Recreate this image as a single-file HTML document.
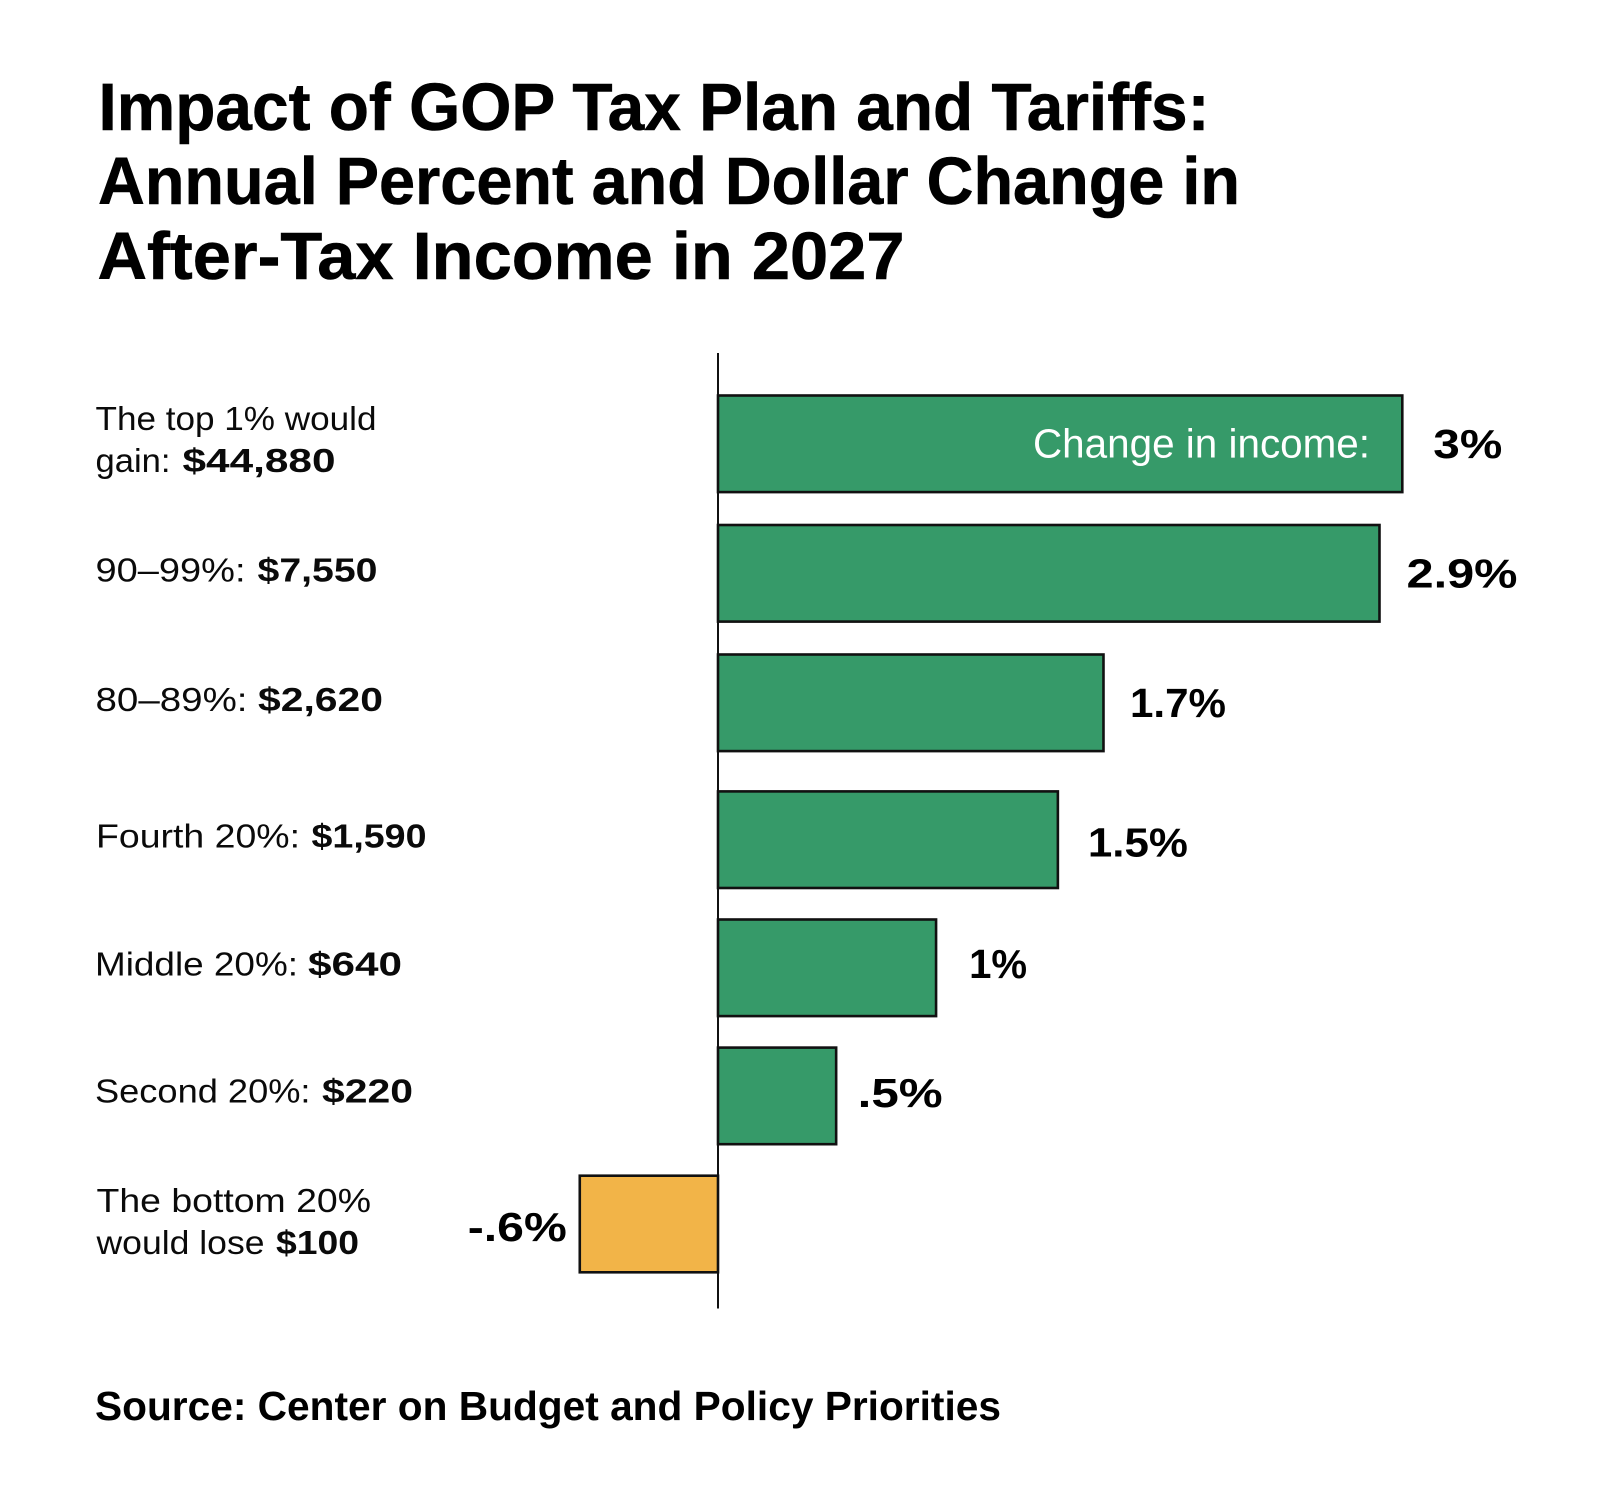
<!DOCTYPE html>
<html lang="en">
<head>
<meta charset="utf-8">
<title>Impact of GOP Tax Plan and Tariffs</title>
<style>
  html, body { margin: 0; padding: 0; background: #ffffff; }
  svg { display: block; font-family: "Liberation Sans", Arial, sans-serif; }
  .title { font-size: 67px; font-weight: 700; fill: #000; stroke: #000; stroke-width: .6px; }
  .cat { font-size: 33.5px; fill: #0a0a0a; }
  .amt { font-size: 33.5px; font-weight: 700; fill: #0a0a0a; }
  .val { font-size: 41px; font-weight: 700; fill: #000; }
  .note { font-size: 41px; fill: #fff; }
  .source { font-size: 41px; font-weight: 700; fill: #000; }
</style>
</head>
<body>
<svg id="chart" width="1600" height="1502" viewBox="0 0 1600 1502" xmlns="http://www.w3.org/2000/svg">
  <rect x="0" y="0" width="1600" height="1502" fill="#ffffff"/>

  <g>
    <text class="title" x="98.5" y="130" textLength="1111" lengthAdjust="spacingAndGlyphs">Impact of GOP Tax Plan and Tariffs:</text>
    <text class="title" x="98" y="204" textLength="1142" lengthAdjust="spacingAndGlyphs">Annual Percent and Dollar Change in</text>
    <text class="title" x="97.5" y="279" textLength="807" lengthAdjust="spacingAndGlyphs">After-Tax Income in 2027</text>
  </g>

  <g id="bars"></g>
  <line id="axis" y1="353" y2="1308.5" stroke="#111" stroke-width="2"/>
  <g id="values"></g>

  <text class="note" x="1033" y="457.7" textLength="337" lengthAdjust="spacingAndGlyphs">Change in income:</text>

  <g>
    <g>
      <text class="cat" x="95.5" y="430" textLength="281" lengthAdjust="spacingAndGlyphs">The top 1% would</text>
      <text class="cat" x="95.5" y="472" textLength="75" lengthAdjust="spacingAndGlyphs">gain:</text>
      <text class="amt" x="182.5" y="472" textLength="153" lengthAdjust="spacingAndGlyphs">$44,880</text>
    </g>
    <g>
      <text class="cat" x="95.5" y="581.7" textLength="150" lengthAdjust="spacingAndGlyphs">90–99%:</text>
      <text class="amt" x="257.5" y="581.7" textLength="120" lengthAdjust="spacingAndGlyphs">$7,550</text>
    </g>
    <g>
      <text class="cat" x="95.5" y="711" textLength="152" lengthAdjust="spacingAndGlyphs">80–89%:</text>
      <text class="amt" x="258" y="711" textLength="125" lengthAdjust="spacingAndGlyphs">$2,620</text>
    </g>
    <g>
      <text class="cat" x="96" y="847.7" textLength="204" lengthAdjust="spacingAndGlyphs">Fourth 20%:</text>
      <text class="amt" x="311.5" y="847.7" textLength="115" lengthAdjust="spacingAndGlyphs">$1,590</text>
    </g>
    <g>
      <text class="cat" x="95" y="975.7" textLength="203" lengthAdjust="spacingAndGlyphs">Middle 20%:</text>
      <text class="amt" x="308" y="975.7" textLength="94" lengthAdjust="spacingAndGlyphs">$640</text>
    </g>
    <g>
      <text class="cat" x="95" y="1102.7" textLength="215.5" lengthAdjust="spacingAndGlyphs">Second 20%:</text>
      <text class="amt" x="322" y="1102.7" textLength="91" lengthAdjust="spacingAndGlyphs">$220</text>
    </g>
    <g>
      <text class="cat" x="96.5" y="1212" textLength="274.5" lengthAdjust="spacingAndGlyphs">The bottom 20%</text>
      <text class="cat" x="96.5" y="1254" textLength="168" lengthAdjust="spacingAndGlyphs">would lose</text>
      <text class="amt" x="276" y="1254" textLength="83" lengthAdjust="spacingAndGlyphs">$100</text>
    </g>
  </g>

  <text class="source" x="95" y="1420" textLength="906" lengthAdjust="spacingAndGlyphs">Source: Center on Budget and Policy Priorities</text>
</svg>

<script>
// Chart data
const groups = ['top-1', '90-99', '80-89', 'fourth-20', 'middle-20', 'second-20', 'bottom-20'];
const changePercent = [3, 2.9, 1.69, 1.49, 0.956, 0.518, -0.606];
const valueLabels = ['3%', '2.9%', '1.7%', '1.5%', '1%', '.5%', '-.6%'];

// Axis functions
const zeroX = 718;
const pxPerPercent = 228.1;
function xScale(v) { return zeroX + v * pxPerPercent; }
function rowCenter(i) { return i < 3 ? 443.8 + 129.5 * i : 839.7 + 128.1 * (i - 3); }

const barHeight = 96.6;
const barStroke = 2.6;
const labelGap = 30;
const negativeLabelGap = 14;
const baselineOffset = 14;

// Hand tweaks that follow the reference's manual label placement: [dx, dy] by row
const labelNudge = { 0: [1, 0], 1: [-3, 0], 2: [-3.5, 0], 3: [0, 3], 4: [3, -4], 5: [-8.5, -3], 6: [1, 3] };

// Approximate advances (px) of the reference typeface
const glyphAdvance = { '1': 15, '7': 22, '.': 16, '-': 14, '%': 43 };
function labelWidth(s) {
  let w = 0;
  for (const c of s) w += (glyphAdvance[c] !== undefined ? glyphAdvance[c] : 26);
  return w;
}

const svgNS = 'http://www.w3.org/2000/svg';
const barsLayer = document.getElementById('bars');
const valuesLayer = document.getElementById('values');
document.getElementById('axis').setAttribute('x1', zeroX);
document.getElementById('axis').setAttribute('x2', zeroX);

changePercent.forEach(function (v, i) {
  const x0 = Math.min(xScale(0), xScale(v));
  const x1 = Math.max(xScale(0), xScale(v));
  const cy = rowCenter(i);

  const bar = document.createElementNS(svgNS, 'rect');
  
  
  bar.setAttribute('x', x0);
  bar.setAttribute('y', cy - barHeight / 2);
  bar.setAttribute('width', x1 - x0);
  bar.setAttribute('height', barHeight);
  bar.setAttribute('fill', v >= 0 ? '#369a69' : '#f2b448');
  bar.setAttribute('stroke', '#111');
  bar.setAttribute('stroke-width', barStroke);
  barsLayer.appendChild(bar);

  const s = valueLabels[i];
  const w = labelWidth(s);
  const nudge = labelNudge[i] || [0, 0];
  const label = document.createElementNS(svgNS, 'text');
  
  
  label.setAttribute('class', 'val');
  label.setAttribute('x', (v >= 0 ? xScale(v) + labelGap : xScale(v) - negativeLabelGap - w) + nudge[0]);
  label.setAttribute('y', cy + baselineOffset + nudge[1]);
  label.setAttribute('textLength', w);
  label.setAttribute('lengthAdjust', 'spacingAndGlyphs');
  label.textContent = s;
  valuesLayer.appendChild(label);
});
</script>
</body>
</html>
